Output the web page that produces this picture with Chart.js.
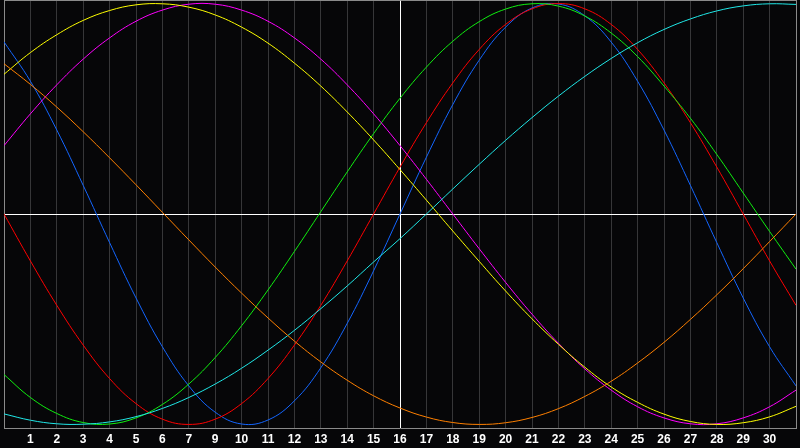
<!DOCTYPE html>
<html>
<head>
<meta charset="utf-8">
<script src="https://cdn.jsdelivr.net/npm/chart.js@4.4.1/dist/chart.umd.min.js"></script>
<style>
  html, body { margin: 0; padding: 0; background: #060608; }
  #wrap { width: 800px; height: 448px; }
</style>
</head>
<body>
<div id="wrap"><canvas id="chart"></canvas></div>
<script>
/* ===== Cycle chart ===== */

// grid positions along the bottom (one per day column edge)
const days = [0,1,2,3,4,5,6,7,8,9,10,11,12,13,14,15,16,17,18,19,20,21,22,23,24,25,26,27,28,29,30];
// labels printed under each grid line (the source skips "8")
const dayLabels = ['', '1','2','3','4','5','6','7','9','10','11','12','13','14','15','16',
  '17','18','19','20','21','22','23','24','25','26','27','28','29','30', ''];

// series values, -1 .. 1, one per grid position
const redVals     = [0,-0.223,-0.434,-0.623,-0.782,-0.901,-0.975,-1,-0.975,-0.901,-0.782,-0.623,-0.434,-0.223,0,0.223,0.434,0.623,0.782,0.901,0.975,1,0.975,0.901,0.782,0.623,0.434,0.223,0,-0.223,-0.434];
const greenVals   = [-0.763,-0.872,-0.948,-0.991,-0.998,-0.969,-0.905,-0.808,-0.682,-0.531,-0.361,-0.178,0.011,0.2,0.382,0.55,0.698,0.821,0.914,0.974,0.999,0.988,0.941,0.86,0.748,0.608,0.455,0.283,0.1,-0.083,-0.262];
const blueVals    = [0.818,0.631,0.399,0.136,-0.136,-0.399,-0.631,-0.817,-0.942,-0.998,-0.979,-0.888,-0.731,-0.52,-0.27,0,0.27,0.52,0.731,0.888,0.979,0.998,0.942,0.817,0.631,0.399,0.136,-0.136,-0.399,-0.631,-0.817];
const cyanVals    = [-0.95,-0.98,-0.997,-0.999,-0.988,-0.963,-0.924,-0.872,-0.808,-0.733,-0.647,-0.553,-0.45,-0.342,-0.228,-0.117,0,0.119,0.236,0.35,0.458,0.56,0.654,0.739,0.814,0.877,0.927,0.965,0.989,0.999,0.996];
const orangeVals  = [0.714,0.616,0.508,0.391,0.267,0.139,0.008,-0.123,-0.252,-0.376,-0.494,-0.604,-0.703,-0.79,-0.864,-0.922,-0.965,-0.991,-1,-0.992,-0.967,-0.925,-0.867,-0.795,-0.708,-0.61,-0.501,-0.384,-0.26,-0.131,0];
const yellowVals  = [0.664,0.767,0.852,0.92,0.967,0.994,0.999,0.983,0.946,0.888,0.812,0.717,0.608,0.485,0.352,0.211,0.066,-0.081,-0.225,-0.366,-0.498,-0.619,-0.728,-0.822,-0.895,-0.951,-0.986,-1,-0.992,-0.964,-0.914];
const magentaVals = [0.325,0.476,0.614,0.736,0.837,0.916,0.969,0.997,0.997,0.969,0.916,0.837,0.736,0.614,0.476,0.325,0.165,0,-0.165,-0.325,-0.476,-0.614,-0.736,-0.837,-0.916,-0.969,-0.997,-0.997,-0.969,-0.916,-0.837];

const todayPos = 15;
const GRID = '#363638';
const FRAME = '#8a8a8a';

function series(vals, color) {
  return {
    data: days.map((d, i) => ({ x: d, y: vals[i] })),
    borderColor: color,
    borderWidth: 1,
    pointRadius: 0,
    tension: 0.4,
    fill: false
  };
}

const ctx = document.getElementById('chart').getContext('2d');
new Chart(ctx, {
  type: 'line',
  data: {
    datasets: [
      series(orangeVals,  '#ff8000'),
      series(cyanVals,    '#20e8e8'),
      series(yellowVals,  '#ffff00'),
      series(magentaVals, '#ff00ff'),
      series(greenVals,   '#10f010'),
      series(redVals,     '#ff0000'),
      series(blueVals,    '#1466ff')
    ]
  },
  options: {
    responsive: true,
    maintainAspectRatio: false,
    animation: false,
    // negative bottom padding keeps the frame at 428px while the labels sit a bit lower
    layout: { padding: { left: 0, right: 1, top: 0, bottom: -2.4 } },
    plugins: { legend: { display: false }, tooltip: { enabled: false } },
    scales: {
      x: {
        type: 'linear',
        min: 0,
        max: 30,
        border: { display: true, color: FRAME, width: 1 },
        grid: {
          drawTicks: false,
          lineWidth: 1,
          color: c => {
            const v = c.tick.value;
            if (v === todayPos) return '#ffffff';
            if (v === 0 || v === 30) return FRAME;
            return GRID;
          }
        },
        ticks: {
          stepSize: 1,
          autoSkip: false,
          maxRotation: 0,
          padding: 4,
          color: '#ffffff',
          font: { family: 'Liberation Sans', size: 12, weight: 'bold', lineHeight: 1.2 },
          callback: v => dayLabels[v]
        }
      },
      y: {
        min: -1.017,
        max: 1.017,
        border: { display: true, color: FRAME, width: 1 },
        grid: {
          drawTicks: false,
          color: c => {
            const v = c.tick.value;
            if (v === 0) return '#ffffff';
            if (v > 1.01) return FRAME;
            return 'rgba(0,0,0,0)';
          }
        },
        ticks: { display: false, stepSize: 1 }
      }
    }
  }
});
</script>
</body>
</html>
